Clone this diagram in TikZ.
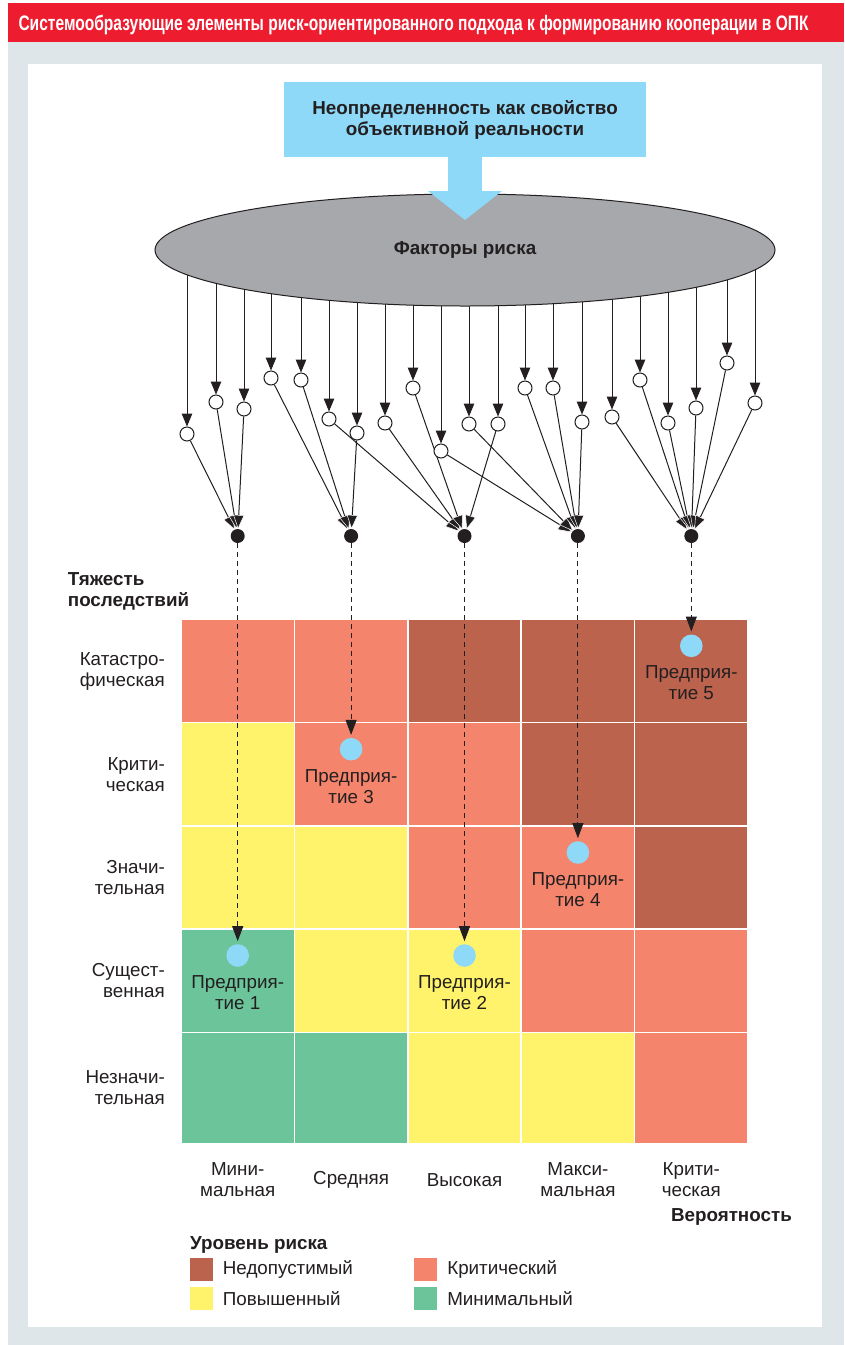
\documentclass[tikz,border=0pt]{standalone}
\usepackage{fontspec}
\setmainfont{Liberation Sans}
\usetikzlibrary{arrows.meta,positioning,shapes.geometric}
\definecolor{hred}{HTML}{ED1C2E}
\definecolor{bgg}{HTML}{DFE6E9}
\definecolor{skyb}{HTML}{8ED8F8}
\definecolor{fgray}{HTML}{A7A8AB}
\definecolor{cD}{HTML}{BC634E}
\definecolor{cS}{HTML}{F5846C}
\definecolor{cY}{HTML}{FFF36B}
\definecolor{cG}{HTML}{6CC59A}
\definecolor{ink}{HTML}{231F20}

\tikzstyle{lab} = [text=ink, font=\fontsize{18.8}{21}\selectfont, inner sep=0pt]
\tikzstyle{blab} = [lab, font=\bfseries\fontsize{18.8}{21}\selectfont]
\tikzstyle{unc} = [rectangle, fill=skyb, minimum width=362pt, minimum height=75pt, align=center, blab]
\tikzstyle{fac} = [ellipse, draw=ink, line width=1pt, fill=fgray, minimum width=620pt, minimum height=112pt, blab]
\tikzstyle{fc} = [circle, draw=ink, fill=white, line width=1pt, minimum size=14pt, inner sep=0pt]
\tikzstyle{bul} = [circle, fill=ink, minimum size=14pt, inner sep=0pt, outer sep=0pt]
\tikzstyle{cell} = [rectangle, draw=white, line width=1.5pt, minimum width=113.4pt, anchor=north west, inner sep=0pt, outer sep=0pt]
\tikzstyle{firm} = [circle, fill=skyb, minimum size=22.6pt, inner sep=0pt, outer sep=0pt]
\tikzstyle{key} = [rectangle, minimum size=23pt, inner sep=0pt]
\tikzstyle{fa} = [-{Triangle[length=13pt,width=10.5pt]}, line width=1pt, draw=ink]
\tikzstyle{fb} = [-{Triangle[length=14pt,width=11pt,fill=ink,color=white,line width=0.5pt]}, line width=1pt, draw=ink]
\tikzstyle{da} = [dash pattern=on 5pt off 4pt, -{Triangle[length=15pt,width=11pt]}, line width=1pt, draw=ink, shorten >=3pt]
\tikzstyle{big} = [draw=skyb, line width=34pt, -{Triangle[length=29pt,width=74pt,line width=0pt]}]

\begin{document}
\begin{tikzpicture}[x=1pt,y=-1pt]
    \useasboundingbox (0,0) rectangle (844,1345);
    \fill[bgg] (8,41.7) rectangle (844,1345);
    \fill[hred] (8,3.3) rectangle (844,41.7);
    \fill[white] (28,64) rectangle (821.7,1326.7);
    \node[anchor=base west, text=white, inner sep=0pt, font=\bfseries\fontsize{21}{23}\selectfont] (head) at (18.3,30.5) {\resizebox{790pt}{\height}{Системообразующие элементы риск-ориентированного подхода к формированию кооперации в ОПК}};

    \foreach \r/\yt/\h/\cols in {1/619.3/103.4/{S,S,D,D,D},2/722.7/103.3/{Y,S,S,D,D},3/826/103/{Y,Y,S,S,D},4/929/103.3/{G,Y,Y,S,S},5/1032.3/111/{G,G,Y,Y,S}}
        \foreach \c [count=\k] in \cols
            \node[cell, fill=c\c, minimum height=\h] (g\r\k) at ({181+113.4*(\k-1)},\yt) {};

    \foreach \r/\t in {1/{Катастро-\\фическая},2/{Крити-\\ческая},3/{Значи-\\тельная},4/{Сущест-\\венная},5/{Незначи-\\тельная}}
        \node[lab, align=right, left=16pt of g\r1.west] (s\r) {\t};
    \foreach \k/\t in {1/{Мини-\\мальная},2/Средняя,3/Высокая,4/{Макси-\\мальная},5/{Крити-\\ческая}}
        \node[lab, align=center, below=36.5pt of g5\k.south, anchor=center] (v\k) {\t};
    \node[blab, align=left, anchor=north west] (sev) at (67.7,572) {Тяжесть\\последствий};
    \node[blab, anchor=base east] (prob) at (792,1221) {Вероятность};

    \node[firm, below=15.2pt of g41.north] (p1) {};
    \node[firm, below=15.2pt of g43.north] (p2) {};
    \node[firm, below=15.2pt of g22.north] (p3) {};
    \node[firm, below=15.2pt of g34.north] (p4) {};
    \node[firm, below=15.2pt of g15.north] (p5) {};
    \foreach \k in {1,...,5}
        \node[lab, align=center, below=8.5pt of p\k] (t\k) {Предприя-\\тие \k};

    \foreach \k in {1,...,5}
        \node[bul, above=76.3pt of g1\k.north] (b\k) {};

    \node[unc] (unc) at (465,119.5) {Неопределенность как свойство\\объективной реальности};
    \coordinate (fcen) at (465,250);
    \foreach \x/\y/\t [count=\i] in {187/434/1,216/402/1,244/409/1,271/378/2,301/380/2,329/419/3,357/433/2,385/423/3,413/388/3,441/451/4,469/424/4,498/424/3,525/388/4,553/388/4,582/422/4,612/417/5,640/380/5,668/423/5,696/408/5,727/363/5,755/403/5}
    {
        \node[fc] (c\i) at (\x,\y) {};
        \draw[fa] (c\i |- fcen) -- (c\i);
        \draw[fb] (c\i) -- (b\t);
    }
    \node[fac] (fac) at (fcen) {Факторы риска};
    \coordinate (tip) at (465,220);
    \draw[big] (unc.south) -- (tip);

    \draw[da] (b1) -- (p1);
    \draw[da] (b2) -- (p3);
    \draw[da] (b3) -- (p2);
    \draw[da] (b4) -- (p4);
    \draw[da] (b5) -- (p5);

    \node[blab, anchor=base west] (lvl) at (190,1249) {Уровень риска};
    \node[key, fill=cD] (k1) at (201.5,1269.5) {};
    \node[key, fill=cY, below=6pt of k1] (k2) {};
    \node[key, fill=cS, right=201pt of k1] (k3) {};
    \node[key, fill=cG, below=6pt of k3] (k4) {};
    \node[lab, right=9.5pt of k1] (l1) {Недопустимый};
    \node[lab, right=9.5pt of k2] (l2) {Повышенный};
    \node[lab, right=9.5pt of k3] (l3) {Критический};
    \node[lab, right=9.5pt of k4] (l4) {Минимальный};
\end{tikzpicture}
\end{document}
